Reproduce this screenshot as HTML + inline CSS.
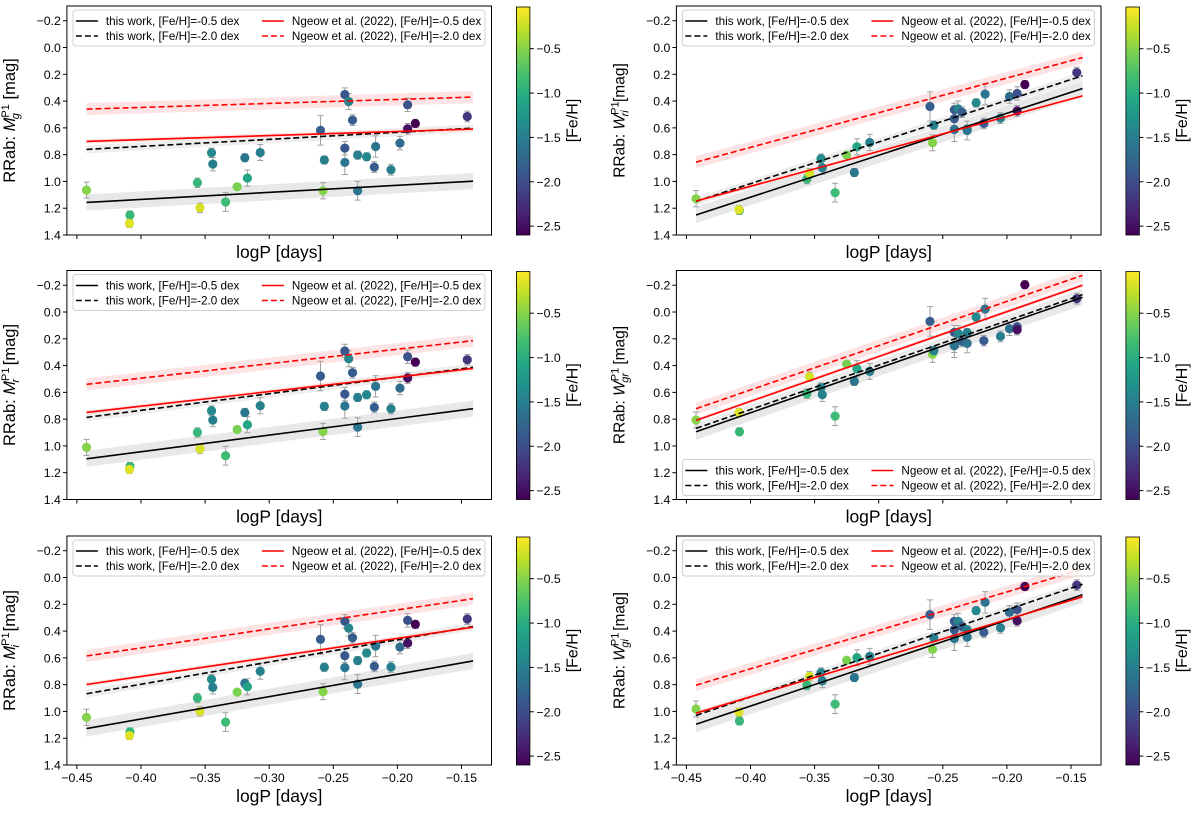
<!DOCTYPE html>
<html><head><meta charset="utf-8"><style>
body{margin:0;background:#fff;}
svg text{font-family:"Liberation Sans","DejaVu Sans",sans-serif;}
</style></head><body>
<svg id="fig" xmlns="http://www.w3.org/2000/svg" width="1200" height="812" viewBox="0 0 1200 812">
<defs>
<linearGradient id="viridis" x1="0" y1="1" x2="0" y2="0">
<stop offset="0" stop-color="#440154"/><stop offset="0.1" stop-color="#482475"/><stop offset="0.2" stop-color="#414487"/><stop offset="0.3" stop-color="#355f8d"/><stop offset="0.4" stop-color="#2a788e"/><stop offset="0.5" stop-color="#21918c"/><stop offset="0.6" stop-color="#22a884"/><stop offset="0.7" stop-color="#44bf70"/><stop offset="0.8" stop-color="#7ad151"/><stop offset="0.9" stop-color="#bddf26"/><stop offset="1" stop-color="#fde725"/>
</linearGradient>
</defs>
</svg>
<script>
// ---- data ----
const logP = [-0.4425,-0.4086,-0.409,-0.356,-0.354,-0.345,-0.344,-0.334,-0.325,-0.319,-0.317,-0.307,-0.260,-0.258,-0.257,-0.241,-0.241,-0.241,-0.238,-0.235,-0.231,-0.231,-0.224,-0.217,-0.218,-0.205,-0.198,-0.192,-0.192,-0.186,-0.1455];
const feh = [-0.5,-0.9,-0.15,-0.9,-0.2,-1.4,-1.5,-0.85,-0.55,-1.6,-1.1,-1.5,-1.85,-0.5,-1.5,-1.9,-1.9,-1.6,-1.45,-1.85,-1.5,-1.6,-1.4,-1.6,-1.85,-1.5,-1.7,-1.95,-2.5,-2.6,-2.2];
const errs = [0.06,0.03,0.03,0.035,0.035,0.035,0.05,0.07,0.02,0.03,0.06,0.06,0.11,0.06,0.03,0.05,0.05,0.09,0.06,0.04,0.03,0.07,0.03,0.08,0.04,0.04,0.05,0.05,0.04,0.03,0.04];
const magG = [1.065,1.251,1.313,1.01,1.197,0.786,0.871,1.154,1.04,0.823,0.975,0.784,0.619,1.07,0.84,0.351,0.751,0.858,0.403,0.542,0.803,1.07,0.816,0.739,0.893,0.913,0.714,0.428,0.607,0.567,0.515];
const magR = [1.011,1.153,1.176,0.899,1.021,0.737,0.807,1.073,0.877,0.75,0.842,0.70,0.478,0.892,0.705,0.291,0.613,0.702,0.349,0.453,0.638,0.86,0.618,0.555,0.712,0.722,0.568,0.334,0.493,0.374,0.356];
const magI = [1.044,1.153,1.18,0.90,1.00,0.76,0.82,1.08,0.856,0.79,0.816,0.70,0.462,0.853,0.67,0.327,0.584,0.673,0.378,0.45,0.62,0.796,0.564,0.512,0.663,0.668,0.52,0.32,0.49,0.35,0.31];
const wRI = [1.129,1.216,1.211,0.982,0.94,0.83,0.898,1.084,0.803,0.933,0.741,0.709,0.44,0.711,0.58,0.465,0.532,0.612,0.458,0.483,0.61,0.62,0.413,0.348,0.567,0.527,0.366,0.343,0.473,0.276,0.187];
const wGR = [0.807,0.894,0.75,0.61,0.483,0.565,0.618,0.777,0.389,0.518,0.423,0.443,0.07,0.316,0.289,0.152,0.252,0.25,0.16,0.219,0.154,0.234,0.037,-0.022,0.214,0.182,0.125,0.11,0.132,-0.204,-0.1];
const wGI = [0.982,1.071,1.004,0.804,0.737,0.71,0.772,0.945,0.618,0.747,0.598,0.589,0.277,0.537,0.45,0.327,0.39,0.455,0.327,0.366,0.39,0.445,0.247,0.185,0.41,0.376,0.26,0.24,0.324,0.067,0.057];
const lineX = [-0.4425,-0.141];
const relG = [[1.157,0.998],[0.761,0.602],[0.701,0.609],[0.46,0.37]];
const relR = [[1.096,0.722],[0.787,0.413],[0.75,0.421],[0.54,0.214]];
const relI = [[1.128,0.623],[0.868,0.366],[0.799,0.371],[0.586,0.158]];
const relRI = [[1.251,0.306],[1.149,0.211],[1.147,0.361],[0.856,0.075]];
const relGR = [[0.894,-0.11],[0.869,-0.13],[0.809,-0.2],[0.722,-0.274]];
const relGI = [[1.096,0.129],[1.03,0.05],[1.013,0.144],[0.804,-0.062]];
const bandHalf = [0.06,0.03,0.015,0.045];
const xTicks = [-0.45,-0.40,-0.35,-0.30,-0.25,-0.20,-0.15];
const xTickLabels = ["\u22120.45","\u22120.40","\u22120.35","\u22120.30","\u22120.25","\u22120.20","\u22120.15"];
const yTicks = [-0.2,0.0,0.2,0.4,0.6,0.8,1.0,1.2,1.4];
const yTickLabels = ["\u22120.2","0.0","0.2","0.4","0.6","0.8","1.0","1.2","1.4"];
const cTicks = [-0.5,-1.0,-1.5,-2.0,-2.5];
const cTickLabels = ["\u22120.5","\u22121.0","\u22121.5","\u22122.0","\u22122.5"];

const NS="http://www.w3.org/2000/svg";
const svg=document.getElementById('fig');
function mk(tag,attrs,parent){const e=document.createElementNS(NS,tag);for(const k in attrs)e.setAttribute(k,attrs[k]);(parent||svg).appendChild(e);return e;}
const vir=["#440154","#482475","#414487","#355f8d","#2a788e","#21918c","#22a884","#44bf70","#7ad151","#bddf26","#fde725"];
function hex(h){return [parseInt(h.slice(1,3),16),parseInt(h.slice(3,5),16),parseInt(h.slice(5,7),16)];}
const CMIN=-2.6,CMAX=-0.03;
function cmap(v){let t=(v-CMIN)/(CMAX-CMIN);t=Math.max(0,Math.min(1,t));const p=t*10,i=Math.min(9,Math.floor(p)),f=p-i;const a=hex(vir[i]),b=hex(vir[i+1]);return `rgb(${a.map((c,k)=>Math.round(c+(b[k]-c)*f)).join(',')})`;}

const XMIN=-0.4578,XMAX=-0.1266,YMIN=-0.31,YMAX=1.4,W=424.6,H=229;
const panels=[
 {name:'g',col:0,row:0,ylab:'M',sub:'g',mags:magG,rel:relG,leg:'top'},
 {name:'ri',col:1,row:0,ylab:'W',sub:'ri',mags:wRI,rel:relRI,leg:'top'},
 {name:'r',col:0,row:1,ylab:'M',sub:'r',mags:magR,rel:relR,leg:'top'},
 {name:'gr',col:1,row:1,ylab:'W',sub:'gr',mags:wGR,rel:relGR,leg:'bottom'},
 {name:'i',col:0,row:2,ylab:'M',sub:'i',mags:magI,rel:relI,leg:'top'},
 {name:'gi',col:1,row:2,ylab:'W',sub:'gi',mags:wGI,rel:relGI,leg:'top'}];
const colL=[66.9,676.4], rowT=[6,270.5,536];

panels.forEach((p,pi)=>{
 const L=colL[p.col],T=rowT[p.row];
 const sx=x=>L+(x-XMIN)/(XMAX-XMIN)*W, sy=y=>T+(y-YMIN)/(YMAX-YMIN)*H;
 const g=mk('g',{});
 
 
 const cid='clip'+pi;
 const cp=mk('clipPath',{id:cid},g); mk('rect',{x:L,y:T,width:W,height:H},cp);
 const plot=mk('g',{'clip-path':`url(#${cid})`},g);
 const styles=[{c:'#000',d:'',bc:'#e6e6e6'},{c:'#000',d:'6,3',bc:'#ececec'},{c:'#f00',d:'',bc:'#fde0e0'},{c:'#f00',d:'6,3',bc:'#fde0e0'}];
 [0,1,3,2].forEach(k=>{const r=p.rel[k],h=bandHalf[k];
  const b=mk('polygon',{points:`${sx(lineX[0])},${sy(r[0]-h)} ${sx(lineX[1])},${sy(r[1]-h)} ${sx(lineX[1])},${sy(r[1]+h)} ${sx(lineX[0])},${sy(r[0]+h)}`,fill:styles[k].bc,opacity:0.9},plot);
  
  });
 logP.forEach((x,i)=>{const y=p.mags[i],e=errs[i],cx=sx(x);
  const eb=mk('path',{d:`M${cx},${sy(y-e)}V${sy(y+e)}M${cx-3},${sy(y-e)}H${cx+3}M${cx-3},${sy(y+e)}H${cx+3}`,stroke:'#a0a0a0','stroke-width':1,fill:'none'},plot);
  
  });
 logP.forEach((x,i)=>{
  const c=mk('circle',{cx:sx(x),cy:sy(p.mags[i]),r:4.6,fill:cmap(feh[i])},plot);
  
  });
 [0,1,3,2].forEach(k=>{const r=p.rel[k];
  const l=mk('line',{x1:sx(lineX[0]),y1:sy(r[0]),x2:sx(lineX[1]),y2:sy(r[1]),stroke:styles[k].c,'stroke-width':1.6,'stroke-dasharray':styles[k].d},plot);
  
  });
 const fr=mk('rect',{x:L,y:T,width:W,height:H,fill:'none',stroke:'#000','stroke-width':1},g);
 
 
 xTicks.forEach((v,i)=>{const X=sx(v);mk('line',{x1:X,y1:T+H,x2:X,y2:T+H+4,stroke:'#000'},g);
  if(p.row===2){const t=mk('text',{x:X,y:T+H+17,'font-size':12.3,'text-anchor':'middle'},g);t.textContent=xTickLabels[i];
   
   }});
 yTicks.forEach((v,i)=>{const Y=sy(v);mk('line',{x1:L-4,y1:Y,x2:L,y2:Y,stroke:'#000'},g);
  const t=mk('text',{x:L-6,y:Y+4.5,'font-size':12.3,'text-anchor':'end'},g);t.textContent=yTickLabels[i];
  
  });
 const xl=mk('text',{x:L+W/2,y:T+H+(p.row===2?37:23),'font-size':17.5,'text-anchor':'middle'},g);xl.textContent='logP [days]';
 
 
 const yx=L-52, yc=T+H/2;
 const yl=mk('text',{x:yx,y:yc,'font-size':p.col?15.5:16.5,'text-anchor':'middle',transform:`rotate(-90 ${yx} ${yc})`},g);
 yl.innerHTML=`RRab: <tspan font-style="italic">${p.ylab}</tspan><tspan font-size="11" dy="-6">P1</tspan><tspan font-size="11" dx="-15" dy="10" font-style="italic">${p.sub}</tspan><tspan dy="-4" dx="${p.sub.length>1?4:9}"> [mag]</tspan>`;
 
 
 const LT=p.leg==='top'?T+4:T+H-40;
 const lg=mk('g',{},g);
 
 
 mk('rect',{x:L+6,y:LT,width:412,height:36,rx:3,fill:'#fff','fill-opacity':0.85,stroke:'#d0d0d0'},lg);
 const labs=['this work, [Fe/H]=-0.5 dex','this work, [Fe/H]=-2.0 dex','Ngeow et al. (2022), [Fe/H]=-0.5 dex','Ngeow et al. (2022), [Fe/H]=-2.0 dex'];
 labs.forEach((s,k)=>{const ox=k<2?0:186, oy=LT+11+(k%2)*15;
  const e=mk('g',{},lg);
  
  
  mk('line',{x1:L+9+ox,y1:oy,x2:L+31+ox,y2:oy,stroke:styles[k].c,'stroke-width':1.6,'stroke-dasharray':styles[k].d},e);
  const t=mk('text',{x:L+39+ox,y:oy+4,'font-size':11.7},e);t.textContent=s;});
 const CX=L+449.5, CT=T+1, CH=H-1;
 const cb=mk('g',{},g);
 
 
 mk('rect',{x:CX,y:CT,width:13.5,height:CH,fill:'url(#viridis)',stroke:'#000','stroke-width':0.8},cb);
 cTicks.forEach((v,i)=>{const Y=CT+(CMAX-v)/(CMAX-CMIN)*CH;mk('line',{x1:CX+13.5,y1:Y,x2:CX+17.5,y2:Y,stroke:'#000'},cb);
  const t=mk('text',{x:CX+20,y:Y+4.5,'font-size':12.3},cb);t.textContent=cTickLabels[i];});
 const fx=CX+61, fy=T+H/2;
 const ft=mk('text',{x:fx,y:fy,'font-size':16,'text-anchor':'middle',transform:`rotate(-90 ${fx} ${fy})`},cb);ft.textContent='[Fe/H]';
});
</script>
</body></html>
